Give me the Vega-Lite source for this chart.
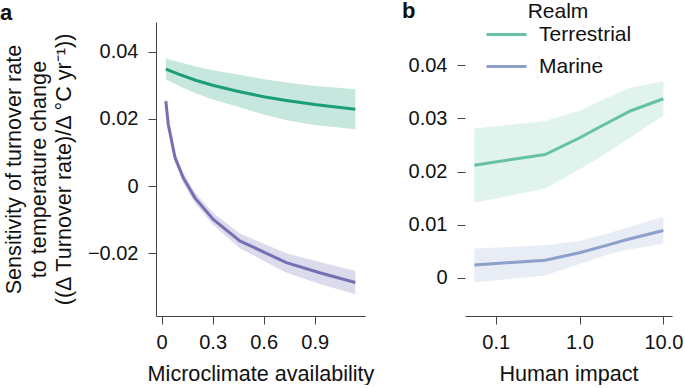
{
  "$schema": "https://vega.github.io/schema/vega-lite/v6.json",
  "padding": {"left": 0, "top": 0, "right": 0, "bottom": 0},
  "background": "white",
  "config": {
    "font": "Liberation Sans",
    "view": {"stroke": null},
    "axis": {
      "grid": false,
      "labelFontSize": 20,
      "titleFontSize": 21.6,
      "titleFontWeight": "normal",
      "labelColor": "#111111",
      "titleColor": "#111111",
      "domainColor": "#444444",
      "tickColor": "#444444",
      "tickSize": 8
    },
    "axisX": {"labelPadding": 8, "titlePadding": 11},
    "axisY": {"labelPadding": 10},
    "legend": {"padding": 0}
  },
  "datasets": {
    "a": [
      {"realm": "Terrestrial", "x": 0.025, "y": 0.0348, "lo": 0.0318, "hi": 0.0380},
      {"realm": "Terrestrial", "x": 0.1, "y": 0.0333, "lo": 0.0299, "hi": 0.0369},
      {"realm": "Terrestrial", "x": 0.2, "y": 0.0315, "lo": 0.0276, "hi": 0.0356},
      {"realm": "Terrestrial", "x": 0.3, "y": 0.0300, "lo": 0.0258, "hi": 0.0345},
      {"realm": "Terrestrial", "x": 0.44, "y": 0.0283, "lo": 0.0238, "hi": 0.0333},
      {"realm": "Terrestrial", "x": 0.6, "y": 0.0266, "lo": 0.0213, "hi": 0.0318},
      {"realm": "Terrestrial", "x": 0.734, "y": 0.0255, "lo": 0.0196, "hi": 0.0308},
      {"realm": "Terrestrial", "x": 0.9, "y": 0.0243, "lo": 0.0182, "hi": 0.0298},
      {"realm": "Terrestrial", "x": 1.0, "y": 0.0237, "lo": 0.0177, "hi": 0.0294},
      {"realm": "Terrestrial", "x": 1.139, "y": 0.0229, "lo": 0.0169, "hi": 0.0288},
      {"realm": "Marine", "x": 0.025, "y": 0.0253, "lo": 0.0241, "hi": 0.0266},
      {"realm": "Marine", "x": 0.039, "y": 0.0184, "lo": 0.0171, "hi": 0.0197},
      {"realm": "Marine", "x": 0.079, "y": 0.0085, "lo": 0.0071, "hi": 0.0099},
      {"realm": "Marine", "x": 0.127, "y": 0.0025, "lo": 0.0010, "hi": 0.0040},
      {"realm": "Marine", "x": 0.196, "y": -0.0035, "lo": -0.0051, "hi": -0.0019},
      {"realm": "Marine", "x": 0.304, "y": -0.0099, "lo": -0.0116, "hi": -0.0080},
      {"realm": "Marine", "x": 0.46, "y": -0.0163, "lo": -0.0185, "hi": -0.0141},
      {"realm": "Marine", "x": 0.734, "y": -0.0228, "lo": -0.0258, "hi": -0.0200},
      {"realm": "Marine", "x": 0.93, "y": -0.0258, "lo": -0.0291, "hi": -0.0226},
      {"realm": "Marine", "x": 1.139, "y": -0.0287, "lo": -0.0322, "hi": -0.0253}
    ],
    "b": [
      {"realm": "Terrestrial", "x": 0.0557, "y": 0.0212, "lo": 0.0141, "hi": 0.0281},
      {"realm": "Terrestrial", "x": 0.389, "y": 0.0232, "lo": 0.0168, "hi": 0.0295},
      {"realm": "Terrestrial", "x": 1.02, "y": 0.0264, "lo": 0.0205, "hi": 0.0315},
      {"realm": "Terrestrial", "x": 1.61, "y": 0.0281, "lo": 0.0223, "hi": 0.0330},
      {"realm": "Terrestrial", "x": 4.03, "y": 0.0314, "lo": 0.0264, "hi": 0.0358},
      {"realm": "Terrestrial", "x": 10, "y": 0.0337, "lo": 0.0305, "hi": 0.0370},
      {"realm": "Marine", "x": 0.0557, "y": 0.0024, "lo": -0.0009, "hi": 0.0055},
      {"realm": "Marine", "x": 0.389, "y": 0.0033, "lo": 0.0004, "hi": 0.0061},
      {"realm": "Marine", "x": 1.0, "y": 0.0047, "lo": 0.0026, "hi": 0.0069},
      {"realm": "Marine", "x": 2.0, "y": 0.0060, "lo": 0.0042, "hi": 0.0082},
      {"realm": "Marine", "x": 3.52, "y": 0.0071, "lo": 0.0052, "hi": 0.0093},
      {"realm": "Marine", "x": 10, "y": 0.0089, "lo": 0.0064, "hi": 0.0115}
    ],
    "spine": [{"k": 1}]
  },
  "spacing": 100,
  "bounds": "flush",
  "resolve": {"scale": {"color": "independent", "fill": "independent", "x": "independent", "y": "independent"}, "legend": {"color": "independent", "fill": "independent"}},
  "hconcat": [
    {
      "width": 209,
      "height": 294,
      "title": {"text": "a", "anchor": "start", "frame": "group", "fontSize": 22, "fontWeight": "bold", "color": "#111111", "dx": -156, "offset": -3},
      "data": {"name": "a"},
      "encoding": {
        "x": {"field": "x", "type": "quantitative", "scale": {"domain": [-0.0329, 1.196], "nice": false, "zero": false},
          "axis": {"values": [0, 0.3, 0.6, 0.9], "format": ".1~f", "title": "Microclimate availability"}}
      },
      "layer": [
        {
          "mark": {"type": "area", "opacity": 0.25},
          "encoding": {
            "y": {"field": "lo", "type": "quantitative", "scale": {"domain": [-0.03866, 0.04884], "nice": false, "zero": false},
              "axis": {"values": [-0.02, 0, 0.02, 0.04], "format": ".2~f",
                "title": ["Sensitivity of turnover rate", "to temperature change", "((Δ Turnover rate)/Δ °C yr⁻¹))"],
                "titleLineHeight": 25, "titlePadding": 12}},
            "y2": {"field": "hi"},
            "fill": {"field": "realm", "type": "nominal", "scale": {"domain": ["Marine", "Terrestrial"], "range": ["#7570b3", "#1b9e77"]}, "legend": null}
          }
        },
        {
          "mark": {"type": "line", "strokeWidth": 3},
          "encoding": {
            "y": {"field": "y", "type": "quantitative"},
            "color": {"field": "realm", "type": "nominal", "scale": {"domain": ["Terrestrial", "Marine"], "range": ["#1b9e77", "#7570b3"]}, "legend": null}
          }
        }
      ]
    },
    {
      "width": 207,
      "height": 294,
      "title": {"text": "b", "anchor": "start", "frame": "group", "fontSize": 22, "fontWeight": "bold", "color": "#111111", "dx": -63, "offset": -22},
      "encoding": {
        "x": {"field": "x", "type": "quantitative", "scale": {"type": "log", "domain": [0.04309, 12.67], "nice": false},
          "axis": {"values": [0.1, 1, 10], "format": ".1f", "title": "Human impact"}}
      },
      "layer": [
        {
          "data": {"name": "b"},
          "mark": {"type": "area", "opacity": 0.2},
          "encoding": {
            "y": {"field": "lo", "type": "quantitative", "scale": {"domain": [-0.00721, 0.04816], "nice": false, "zero": false},
              "axis": {"values": [0, 0.01, 0.02, 0.03, 0.04], "format": ".2~f", "title": null, "domain": false}},
            "y2": {"field": "hi"},
            "fill": {"field": "realm", "type": "nominal", "scale": {"domain": ["Marine", "Terrestrial"], "range": ["#8da0cb", "#66c2a5"]}, "legend": null}
          }
        },
        {
          "data": {"name": "b"},
          "mark": {"type": "line", "strokeWidth": 3},
          "encoding": {
            "y": {"field": "y", "type": "quantitative"},
            "color": {"field": "realm", "type": "nominal", "scale": {"domain": ["Terrestrial", "Marine"], "range": ["#66c2a5", "#8da0cb"]},
              "legend": {"title": "Realm", "orient": "none", "legendX": 20, "legendY": -21, "symbolType": "stroke", "symbolSize": 1600, "symbolStrokeWidth": 3,
                "labelFontSize": 21, "titleFontSize": 21, "titleFontWeight": "normal", "labelColor": "#111111", "titleColor": "#111111",
                "labelOffset": 11, "rowPadding": -17, "titlePadding": -9, "titleAnchor": "middle", "titleAlign": "center"}}
          }
        },
        {
          "data": {"name": "spine"},
          "mark": {"type": "rule", "color": "#444444", "strokeWidth": 1},
          "encoding": {
            "x": {"datum": 0.04309},
            "y": {"datum": -0.00721},
            "y2": {"datum": 0.04721}
          }
        }
      ]
    }
  ]
}
